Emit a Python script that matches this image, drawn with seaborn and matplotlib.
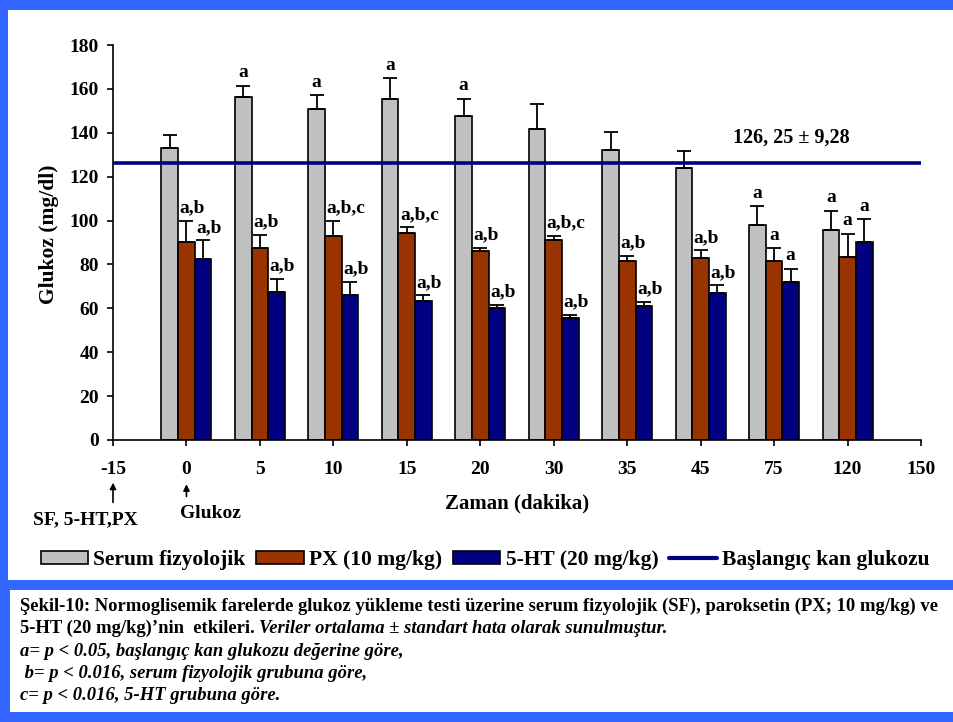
import numpy as np
import pandas as pd
import matplotlib
matplotlib.use("Agg")
import matplotlib.pyplot as plt
from matplotlib.patches import Rectangle, Patch
from matplotlib.lines import Line2D
import seaborn as sns

# ---- data -------------------------------------------------------------
time_labels = ["-15", "0", "5", "10", "15", "20", "30", "35", "45", "75", "120", "150"]
measured_times = ["0", "5", "10", "15", "20", "30", "35", "45", "75", "120"]
groups = ["Serum fizyolojik", "PX (10 mg/kg)", "5-HT (20 mg/kg)"]

sf_mean = [133, 156.5, 151, 155.5, 147.5, 141.5, 132, 124, 98, 95.5]
sf_sem = [6, 5, 6, 9.5, 8, 11.5, 8.5, 7.5, 8.5, 9]
px_mean = [90, 87.5, 93, 94.5, 86, 91, 81.5, 83, 81.5, 83.5]
px_sem = [10, 6, 7, 2.5, 1.5, 2, 2.5, 3.5, 6, 10.5]
ht_mean = [82.5, 67.5, 66, 63.5, 60, 55.5, 61, 67, 72, 90]
ht_sem = [8.5, 6, 6, 2.5, 1.5, 1.5, 2, 3.5, 6, 10.5]

sf_sig = ["", "a", "a", "a", "a", "", "", "", "a", "a"]
px_sig = ["a,b", "a,b", "a,b,c", "a,b,c", "a,b", "a,b,c", "a,b", "a,b", "a", "a"]
ht_sig = ["a,b", "a,b", "a,b", "a,b", "a,b", "a,b", "a,b", "a,b", "a", "a"]

baseline_mean = 126.25
baseline_sem = 9.28
baseline_name = "Başlangıç kan glukozu"

y_ticks = [0, 20, 40, 60, 80, 100, 120, 140, 160, 180]

# ---- long table for seaborn --------------------------------------------
frames = []
for g, m, s, sig in [(groups[0], sf_mean, sf_sem, sf_sig),
                     (groups[1], px_mean, px_sem, px_sig),
                     (groups[2], ht_mean, ht_sem, ht_sig)]:
    frames.append(pd.DataFrame({"Zaman": measured_times, "Grup": g,
                                "Glukoz": m, "SEM": s, "Sig": sig}))
df = pd.concat(frames, ignore_index=True)

colors = {groups[0]: "#C0C0C0", groups[1]: "#993300", groups[2]: "#000080"}
blue_frame = "#3366FF"
line_color = "#000080"

sns.set_style("ticks")
plt.rcParams["font.family"] = ["Liberation Serif", "DejaVu Serif"]
plt.rcParams["font.weight"] = "bold"
plt.rcParams["text.color"] = "black"
plt.rcParams["axes.labelcolor"] = "black"
plt.rcParams["xtick.color"] = "black"
plt.rcParams["ytick.color"] = "black"

W, H = 954, 722
fig = plt.figure(figsize=(W / 100, H / 100), dpi=100, facecolor=blue_frame)

def fx(px):
    return px / W

def fy(py):
    return 1 - py / H

# white panels inside the blue frame
fig.patches.append(Rectangle((fx(8), fy(580)), fx(W - 8), 570 / H,
                             transform=fig.transFigure, facecolor="white",
                             edgecolor="none", zorder=-5))
fig.patches.append(Rectangle((fx(10), fy(712)), fx(W - 10), 122 / H,
                             transform=fig.transFigure, facecolor="white",
                             edgecolor="none", zorder=-5))

ax = fig.add_axes([fx(113), fy(440), fx(921 - 113), 395 / H])
ax.set_facecolor("white")

sns.barplot(data=df, x="Zaman", y="Glukoz", hue="Grup", order=time_labels,
            hue_order=groups, palette=colors, width=0.68, errorbar=None,
            saturation=1, edgecolor="black", linewidth=1.2, legend=False, ax=ax)

# upper error bars and significance letters
for g, cont in zip(groups, ax.containers):
    sub = df[df["Grup"] == g].set_index("Zaman")
    xs, hs, es = [], [], []
    for bar in cont:
        xc = bar.get_x() + bar.get_width() / 2
        cat = time_labels[int(round(xc))]
        row = sub.loc[cat]
        xs.append(xc)
        hs.append(bar.get_height())
        es.append(row["SEM"])
        lbl = row["Sig"]
        if lbl:
            top = bar.get_height() + row["SEM"] + 2
            if len(lbl) == 1:
                ax.text(xc, top, lbl, ha="center", va="bottom",
                        fontsize=14, fontweight="bold", zorder=5)
            else:
                ax.text(bar.get_x() + 0.02, top, lbl, ha="left", va="bottom",
                        fontsize=14, fontweight="bold", zorder=5)
    ax.errorbar(xs, hs, yerr=[np.zeros(len(es)), es], fmt="none",
                ecolor="black", elinewidth=1.3, capsize=5, capthick=1.3,
                zorder=3)

# baseline glucose
ax.axhline(baseline_mean, color=line_color, lw=2.6, zorder=4)
base_txt = f"{baseline_mean:.2f}".replace(".", ", ") + " ± " + \
    f"{baseline_sem:.2f}".replace(".", ",")
ax.text(9.24, 138, base_txt, ha="center", va="center", fontsize=14.5,
        fontweight="bold")

ax.set_xlim(0, len(time_labels) - 1)
ax.set_ylim(0, 180)
ax.set_yticks(y_ticks)
ax.set_xticks(range(len(time_labels)))
ax.set_xticklabels(time_labels)
for side in ["top", "right"]:
    ax.spines[side].set_visible(False)
for side in ["left", "bottom"]:
    ax.spines[side].set_color("black")
    ax.spines[side].set_linewidth(1.2)
ax.tick_params(axis="both", colors="black", labelsize=14, width=1.2,
               length=4, direction="out")
ax.tick_params(axis="x", pad=11)
ax.tick_params(axis="y", pad=6)
for t in ax.get_xticklabels() + ax.get_yticklabels():
    t.set_fontweight("bold")

ax.set_ylabel("Glukoz (mg/dl)", fontsize=15.5, fontweight="bold")
ax.yaxis.label.set_va("center")
ax.yaxis.set_label_coords(-0.079, 0.52)
ax.set_xlabel("Zaman (dakika)", fontsize=15, fontweight="bold")
ax.xaxis.label.set_va("center")
ax.xaxis.set_label_coords(0.5, -0.16)

# injection markers
xtr = ax.get_xaxis_transform()
arrow = dict(arrowstyle="-|>", color="black", lw=1.2, mutation_scale=9,
             shrinkA=0, shrinkB=0)
ax.annotate("", xy=(0, -0.108), xytext=(0, -0.158), xycoords=xtr,
            textcoords=xtr, arrowprops=arrow, annotation_clip=False)
ax.annotate("", xy=(1, -0.112), xytext=(1, -0.143), xycoords=xtr,
            textcoords=xtr, arrowprops=arrow, annotation_clip=False)
ax.text(-0.38, -0.203, "SF, 5-HT,PX", transform=xtr, ha="center",
        va="center", fontsize=14, fontweight="bold", clip_on=False)
ax.text(1.32, -0.187, "Glukoz", transform=xtr, ha="center", va="center",
        fontsize=14, fontweight="bold", clip_on=False)

# legend
handles = [Patch(facecolor=colors[g], edgecolor="black", linewidth=1.2)
           for g in groups]
handles.append(Line2D([], [], color=line_color, lw=3))
fig.legend(handles, groups + [baseline_name], loc="center",
           bbox_to_anchor=(fx(485), fy(560)), ncol=4, frameon=False,
           prop={"family": "Liberation Serif", "weight": "bold", "size": 15.5},
           handlelength=2.2, handleheight=0.55, handletextpad=0.25,
           columnspacing=0.5, borderpad=0)

# caption
cap_size = 13.4
cap_kw = dict(fontsize=cap_size, fontweight="bold", va="baseline", ha="left",
              color="black")
fig.text(fx(20), fy(611),
         "Şekil-10: Normoglisemik farelerde glukoz yükleme testi üzerine serum "
         "fizyolojik (SF), paroksetin (PX; 10 mg/kg) ve", **cap_kw)
t2 = fig.text(fx(20), fy(633), "5-HT (20 mg/kg)’nin  etkileri. ", **cap_kw)
fig.canvas.draw()
bb = t2.get_window_extent(renderer=fig.canvas.get_renderer())
ital_kw = dict(cap_kw, fontstyle="italic")
fig.text(bb.x1 / W, fy(633),
         "Veriler ortalama ± standart hata olarak sunulmuştur.", **ital_kw)
fig.text(fx(20), fy(656), "a= p < 0.05, başlangıç kan glukozu değerine göre,",
         **ital_kw)
fig.text(fx(20), fy(678), " b= p < 0.016, serum fizyolojik grubuna göre,",
         **ital_kw)
fig.text(fx(20), fy(700), "c= p < 0.016, 5-HT grubuna göre.", **ital_kw)

fig.savefig("out.png", dpi=100, facecolor=fig.get_facecolor())
